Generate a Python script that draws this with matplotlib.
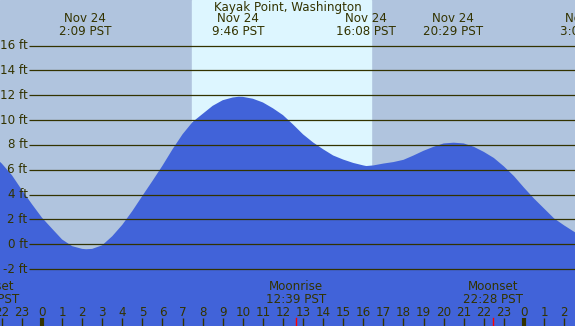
# Tide chart for Kayak Point, Washington - Nov 24
import matplotlib.pyplot as plt
import matplotlib.transforms as mtransforms

# tide height (ft), hours from midnight Nov 24
hours = [-2.1, -2, -1.5, -1, -0.5, 0, 0.5, 1, 1.5, 2, 2.2, 2.5, 3, 3.5, 4, 4.5, 5, 5.5,
         6, 6.5, 7, 7.5, 8, 8.5, 9, 9.5, 9.8, 10, 10.5, 11, 11.5, 12, 12.5, 13, 13.5,
         14, 14.5, 15, 15.5, 16, 16.15, 16.5, 17, 17.5, 18, 18.5, 19, 19.5, 20, 20.5,
         21, 21.5, 22, 22.5, 23, 23.5, 24, 24.5, 25, 25.5, 26, 26.6]
heights = [6.65, 6.5, 5.57, 4.37, 3.23, 2.14, 1.26, 0.39, -0.15, -0.37, -0.4, -0.37,
           -0.08, 0.65, 1.57, 2.68, 3.9, 5.1, 6.33, 7.65, 8.86, 9.85, 10.5, 11.15,
           11.6, 11.82, 11.88, 11.87, 11.72, 11.42, 10.95, 10.4, 9.65, 8.85, 8.2,
           7.65, 7.15, 6.82, 6.55, 6.35, 6.3, 6.35, 6.5, 6.62, 6.8, 7.15, 7.53, 7.85,
           8.12, 8.18, 8.12, 7.85, 7.44, 6.95, 6.27, 5.49, 4.56, 3.68, 2.88, 2.08, 1.52, 0.9]

# high / low tide labels
event_hours = [2.15, 9.77, 16.13, 20.48, 27.1]
event_labels = ['Nov 24\n2:09 PST', 'Nov 24\n9:46 PST', 'Nov 24\n16:08 PST',
                'Nov 24\n20:29 PST', 'Nov 25\n3:06 PST']

# sunrise / sunset
sunrise, sunset = 7.47, 16.38

# moon
moon_hours = [-2.64, 12.65, 22.47]
moon_labels = ['Moonset\n21:22 PST', 'Moonrise\n12:39 PST', 'Moonset\n22:28 PST']

ft_ticks = [-2, 0, 2, 4, 6, 8, 10, 12, 14, 16]
hour_ticks = list(range(-2, 27))

night = '#b0c4de'
day = '#ddf6ff'
water = '#4163d9'
ink = '#333300'
fs = 8.6

fig = plt.figure(figsize=(5.75, 3.26), dpi=100)
ax = fig.add_axes([0, 0, 1, 1])
ax.set_xlim(-2.09, 26.54)
ax.set_ylim(-6.58, 19.67)
ax.axis('off')
ax.add_patch(plt.Rectangle((0, 0), 1, 1, transform=ax.transAxes, color=night, zorder=0))
ax.axvspan(sunrise, sunset, color=day, zorder=1)

ax.fill_between(hours, heights, -10, color=water, zorder=2, linewidth=0)

ax.hlines(ft_ticks, -0.65, 27, color=ink, linewidth=0.9, zorder=3)
for f in ft_ticks:
    ax.text(-0.72, f, f'{f} ft', ha='right', va='center', fontsize=fs, color=ink, zorder=4)

trans = mtransforms.blended_transform_factory(ax.transData, ax.transAxes)

ax.text(0.5, 1 - 8 / 326, 'Kayak Point, Washington', transform=ax.transAxes,
        ha='center', va='center', fontsize=fs, color=ink)
for h, lab in zip(event_hours, event_labels):
    ax.text(h, 1 - 25 / 326, lab, transform=trans, ha='center', va='center',
            fontsize=fs, color=ink, linespacing=1.0)

for h, lab in zip(moon_hours, moon_labels):
    ax.text(h, 1 - 293 / 326, lab, transform=trans, ha='center', va='center',
            fontsize=fs, color=ink, linespacing=1.0)

for h in hour_ticks:
    ax.text(h, 1 - 312 / 326, str(h % 24), transform=trans, ha='center', va='center',
            fontsize=fs, color=ink)
    ax.plot([h, h], [0, 8 / 326], transform=trans, color=ink,
            linewidth=3 if h % 24 == 0 else 1, solid_capstyle='butt', zorder=5)
for h in moon_hours[1:]:
    ax.plot([h, h], [0, 8 / 326], transform=trans, color='red', linewidth=1, zorder=5)

fig.savefig('out.png', dpi=100)
